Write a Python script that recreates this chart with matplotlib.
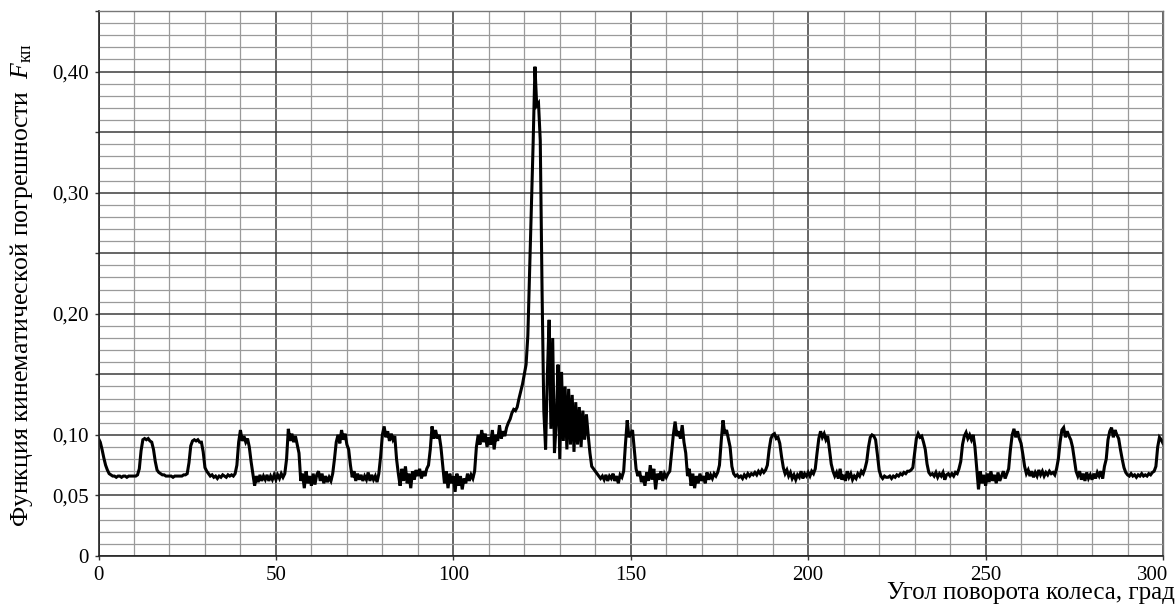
#=========================================================================
# plot.py -- kinematic error function vs. wheel rotation angle
#=========================================================================

import matplotlib
matplotlib.use('Agg')
import matplotlib.pyplot as plt
import matplotlib.transforms as mtransforms
import numpy as np

#-------------------------------------------------------------------------
# Data: F_kp sampled every 0.5 deg, one row per 10 deg (row k starts at 10k)
#-------------------------------------------------------------------------

step_deg = 0.5

fkp_rows = [
  # 0 .. 9.5
  [0.097, 0.094, 0.088, 0.081, 0.075, 0.071, 0.068, 0.067, 0.066, 0.066,
   0.065, 0.066, 0.066, 0.065, 0.066, 0.066, 0.065, 0.066, 0.066, 0.066],
  # 10 .. 19.5
  [0.066, 0.066, 0.067, 0.072, 0.087, 0.096, 0.097, 0.096, 0.097, 0.095,
   0.094, 0.088, 0.078, 0.071, 0.069, 0.068, 0.067, 0.067, 0.066, 0.066],
  # 20 .. 29.5
  [0.066, 0.066, 0.065, 0.066, 0.066, 0.066, 0.066, 0.066, 0.067, 0.067,
   0.068, 0.077, 0.091, 0.095, 0.096, 0.095, 0.096, 0.094, 0.094, 0.086],
  # 30 .. 39.5
  [0.073, 0.070, 0.068, 0.066, 0.067, 0.065, 0.066, 0.064, 0.066, 0.065,
   0.067, 0.066, 0.065, 0.067, 0.066, 0.067, 0.066, 0.068, 0.075, 0.094],
  # 40 .. 49.5
  [0.104, 0.095, 0.099, 0.094, 0.097, 0.090, 0.078, 0.068, 0.058, 0.066,
   0.061, 0.067, 0.062, 0.066, 0.063, 0.067, 0.062, 0.066, 0.063, 0.067],
  # 50 .. 59.5
  [0.063, 0.067, 0.064, 0.068, 0.065, 0.068, 0.080, 0.105, 0.095, 0.101,
   0.094, 0.099, 0.092, 0.085, 0.062, 0.068, 0.056, 0.070, 0.060, 0.066],
  # 60 .. 69.5
  [0.058, 0.068, 0.059, 0.067, 0.070, 0.062, 0.068, 0.060, 0.066, 0.061,
   0.065, 0.062, 0.068, 0.080, 0.094, 0.100, 0.093, 0.104, 0.096, 0.101],
  # 70 .. 79.5
  [0.092, 0.088, 0.075, 0.065, 0.070, 0.062, 0.068, 0.063, 0.067, 0.062,
   0.066, 0.063, 0.069, 0.062, 0.067, 0.063, 0.066, 0.061, 0.068, 0.082],
  # 80 .. 89.5
  [0.100, 0.107, 0.098, 0.103, 0.095, 0.101, 0.096, 0.099, 0.080, 0.068,
   0.058, 0.072, 0.062, 0.074, 0.060, 0.068, 0.056, 0.070, 0.063, 0.071],
  # 90 .. 99.5
  [0.066, 0.072, 0.064, 0.070, 0.066, 0.072, 0.075, 0.088, 0.107, 0.097,
   0.104, 0.097, 0.100, 0.090, 0.075, 0.060, 0.070, 0.056, 0.068, 0.060],
  # 100 .. 109.5
  [0.066, 0.053, 0.068, 0.058, 0.066, 0.055, 0.064, 0.060, 0.068, 0.062,
   0.067, 0.064, 0.070, 0.090, 0.100, 0.092, 0.104, 0.094, 0.101, 0.090],
  # 110 .. 119.5
  [0.098, 0.092, 0.104, 0.088, 0.100, 0.095, 0.108, 0.097, 0.103, 0.099,
   0.106, 0.110, 0.113, 0.118, 0.121, 0.120, 0.123, 0.130, 0.136, 0.142],
  # 120 .. 129.5
  [0.150, 0.158, 0.182, 0.235, 0.288, 0.342, 0.404, 0.372, 0.374, 0.343,
   0.220, 0.120, 0.088, 0.150, 0.195, 0.105, 0.180, 0.085, 0.110, 0.158],
  # 130 .. 139.5
  [0.080, 0.152, 0.095, 0.140, 0.088, 0.138, 0.092, 0.133, 0.086, 0.127,
   0.092, 0.123, 0.090, 0.120, 0.096, 0.117, 0.100, 0.085, 0.074, 0.072],
  # 140 .. 149.5
  [0.070, 0.068, 0.066, 0.064, 0.066, 0.063, 0.067, 0.062, 0.066, 0.064,
   0.068, 0.062, 0.066, 0.060, 0.067, 0.065, 0.070, 0.092, 0.112, 0.098],
  # 150 .. 159.5
  [0.101, 0.104, 0.088, 0.072, 0.066, 0.070, 0.061, 0.066, 0.058, 0.069,
   0.062, 0.075, 0.063, 0.072, 0.055, 0.068, 0.063, 0.070, 0.062, 0.068],
  # 160 .. 169.5
  [0.065, 0.068, 0.070, 0.085, 0.100, 0.111, 0.099, 0.103, 0.097, 0.108,
   0.094, 0.085, 0.066, 0.072, 0.058, 0.068, 0.056, 0.066, 0.060, 0.068],
  # 170 .. 179.5
  [0.062, 0.066, 0.060, 0.069, 0.063, 0.067, 0.064, 0.068, 0.066, 0.069,
   0.075, 0.095, 0.112, 0.101, 0.104, 0.097, 0.090, 0.074, 0.068, 0.066],
  # 180 .. 189.5
  [0.067, 0.065, 0.066, 0.064, 0.067, 0.065, 0.068, 0.066, 0.068, 0.067,
   0.069, 0.067, 0.070, 0.068, 0.071, 0.069, 0.071, 0.075, 0.088, 0.097],
  # 190 .. 199.5
  [0.100, 0.101, 0.097, 0.098, 0.093, 0.082, 0.073, 0.068, 0.071, 0.066,
   0.069, 0.064, 0.067, 0.063, 0.067, 0.065, 0.070, 0.064, 0.068, 0.066],
  # 200 .. 209.5
  [0.069, 0.066, 0.070, 0.068, 0.072, 0.085, 0.097, 0.103, 0.098, 0.101,
   0.096, 0.099, 0.088, 0.076, 0.070, 0.066, 0.069, 0.064, 0.072, 0.063],
  # 210 .. 219.5
  [0.067, 0.062, 0.070, 0.065, 0.068, 0.063, 0.066, 0.064, 0.068, 0.066,
   0.070, 0.068, 0.072, 0.078, 0.090, 0.098, 0.100, 0.099, 0.096, 0.084],
  # 220 .. 229.5
  [0.071, 0.066, 0.064, 0.066, 0.065, 0.065, 0.066, 0.064, 0.066, 0.065,
   0.067, 0.066, 0.068, 0.067, 0.069, 0.068, 0.070, 0.070, 0.071, 0.073],
  # 230 .. 239.5
  [0.085, 0.097, 0.101, 0.098, 0.099, 0.094, 0.088, 0.076, 0.069, 0.067,
   0.068, 0.066, 0.069, 0.065, 0.068, 0.066, 0.069, 0.063, 0.067, 0.068],
  # 240 .. 249.5
  [0.066, 0.068, 0.066, 0.069, 0.068, 0.072, 0.078, 0.092, 0.099, 0.102,
   0.097, 0.100, 0.096, 0.100, 0.090, 0.072, 0.055, 0.070, 0.060, 0.067],
  # 250 .. 259.5
  [0.058, 0.068, 0.061, 0.070, 0.062, 0.067, 0.060, 0.069, 0.062, 0.066,
   0.070, 0.064, 0.068, 0.072, 0.088, 0.100, 0.105, 0.098, 0.103, 0.097],
  # 260 .. 269.5
  [0.093, 0.084, 0.074, 0.068, 0.071, 0.066, 0.070, 0.065, 0.069, 0.066,
   0.071, 0.067, 0.070, 0.066, 0.069, 0.067, 0.070, 0.068, 0.069, 0.067],
  # 270 .. 279.5
  [0.072, 0.080, 0.094, 0.104, 0.106, 0.098, 0.103, 0.099, 0.096, 0.090,
   0.080, 0.070, 0.066, 0.070, 0.063, 0.068, 0.062, 0.069, 0.064, 0.067],
  # 280 .. 289.5
  [0.063, 0.068, 0.064, 0.069, 0.066, 0.070, 0.064, 0.074, 0.080, 0.096,
   0.103, 0.106, 0.098, 0.104, 0.100, 0.097, 0.088, 0.080, 0.073, 0.069],
  # 290 .. 299.5
  [0.067, 0.066, 0.068, 0.066, 0.067, 0.065, 0.067, 0.066, 0.068, 0.066,
   0.067, 0.066, 0.068, 0.067, 0.069, 0.070, 0.074, 0.090, 0.098, 0.096],
]
fkp_end = 0.093   # value at 300 deg

x_ticks       = [0, 50, 100, 150, 200, 250, 300]
y_ticks       = [0.00, 0.05, 0.10, 0.15, 0.20, 0.25, 0.30, 0.35, 0.40, 0.45]
y_tick_labels = ['0', '0,05', '0,10', '', '0,20', '', '0,30', '', '0,40', '']

x_label = 'Угол поворота колеса, град'
y_label = 'Функция кинематической погрешности  $F_{\\mathrm{кп}}$'

#-------------------------------------------------------------------------
# Build the series
#-------------------------------------------------------------------------

angle = []
fkp   = []
for k, row in enumerate(fkp_rows):
  angle.extend(10.0*k + step_deg*np.arange(len(row)))
  fkp.extend(row)
angle.append(300.0)
fkp.append(fkp_end)
angle = np.array(angle)
fkp   = np.array(fkp)

#-------------------------------------------------------------------------
# Configure matplotlib
#-------------------------------------------------------------------------

plt.rcParams['font.family']      = 'Liberation Serif'
plt.rcParams['font.size']        = 15
plt.rcParams['mathtext.fontset'] = 'custom'
plt.rcParams['mathtext.rm']      = 'Liberation Serif'
plt.rcParams['mathtext.it']      = 'Liberation Serif:italic'

#-------------------------------------------------------------------------
# Create plot
#-------------------------------------------------------------------------

fig = plt.figure(figsize=(11.75, 6.04), dpi=100)
ax = fig.add_axes([98.5/1175, 48/604, 1064.5/1175, 545/604])

ax.plot(angle, fkp, color='black', linewidth=2.2, solid_joinstyle='miter')

ax.set_xlim(0, 300)
ax.set_ylim(0, 0.45)

ax.set_xticks(x_ticks)
ax.set_xticks(np.arange(0, 301, 10), minor=True)
ax.set_yticks(y_ticks)
ax.set_yticklabels(y_tick_labels)
ax.set_yticks(np.arange(0, 0.4501, 0.01), minor=True)

ax.grid(which='minor', color='#9a9a9a', linewidth=0.9)
ax.grid(which='major', color='#3c3c3c', linewidth=1.1)
ax.set_axisbelow(True)

ax.tick_params(which='major', length=3, width=1.0, color='#333333', pad=4,
               labelsize=15)
ax.tick_params(which='minor', length=0)

# keep the last x label inside the figure edge
last = ax.get_xticklabels()[-1]
last.set_horizontalalignment('right')
last.set_transform(last.get_transform() +
                   mtransforms.ScaledTranslation(5/100, 0, fig.dpi_scale_trans))

for side in ['left', 'bottom']:
  ax.spines[side].set_color('#222222')
  ax.spines[side].set_linewidth(1.2)
for side in ['top', 'right']:
  ax.spines[side].set_color('#777777')
  ax.spines[side].set_linewidth(1.0)

# axis titles
fig.text(1175/1175, 4.5/604, x_label, ha='right', va='baseline', fontsize=18)
fig.text(22/1175, 1 - 285/604, y_label, rotation=90, ha='center',
         va='center', fontsize=18.5)

plt.savefig('out.png', dpi=100)
